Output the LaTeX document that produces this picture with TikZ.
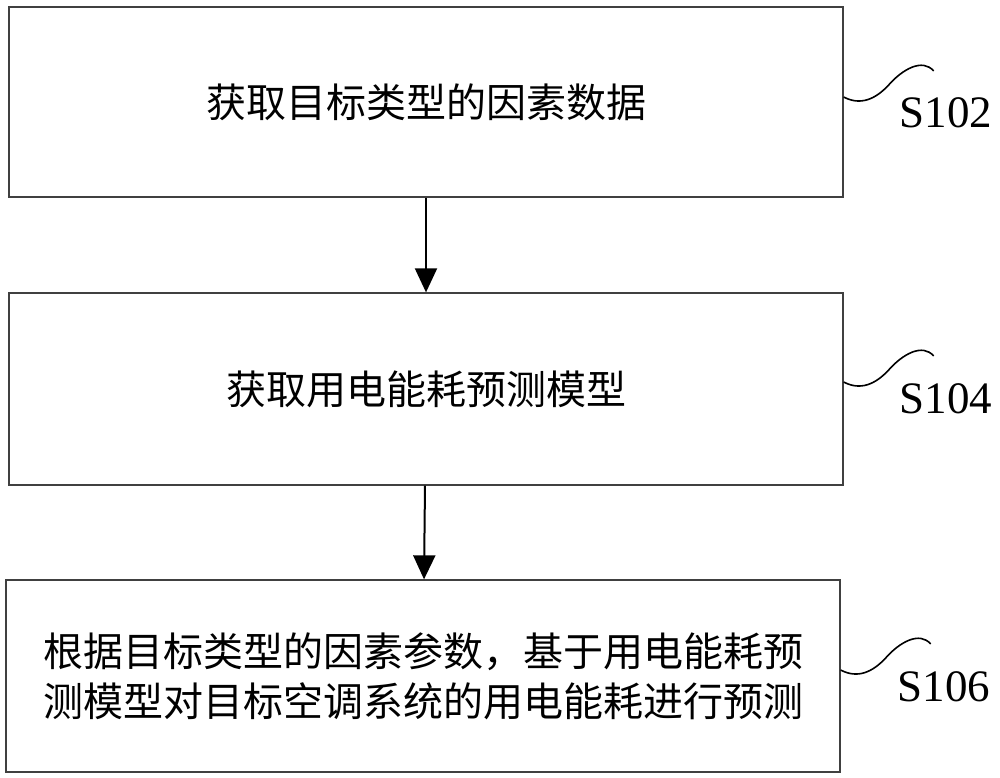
\documentclass[tikz,border=0pt]{standalone}
\usepackage{fontspec}
\setmainfont{Liberation Serif}
\newfontfamily\cjk{Noto Sans CJK SC}
\usetikzlibrary{arrows.meta}
\tikzset{
  stepbox/.style={draw=black!75, line width=1.3pt, rectangle, minimum width=834pt, inner sep=0pt, align=center, font=\cjk\fontsize{40}{50}\selectfont},
  flow/.style={line width=2pt, -{Triangle[width=22pt,length=24pt]}},
  squig/.style={line width=1.6pt},
  steplabel/.style={font=\fontsize{45}{50}\selectfont, inner sep=0pt}
}
\begin{document}
\begin{tikzpicture}[x=1pt,y=-1pt]
\useasboundingbox (0,0) rectangle (1000,777);
\node[stepbox, minimum height=190pt] (b1) at (426,102) {获取目标类型的因素数据};
\node[stepbox, minimum height=192pt] (b2) at (426,389) {获取用电能耗预测模型};
\node[stepbox, minimum height=192pt] (b3) at (423,676) {根据目标类型的因素参数，基于用电能耗预\\测模型对目标空调系统的用电能耗进行预测};
\draw[flow] (b1) -- (b2);
\draw[flow] (b2) -- (b3);
\node[steplabel] (l1) at (946,113) {S102};
\node[steplabel] (l2) at (946,399) {S104};
\node[steplabel] (l3) at (944,687) {S106};
\coordinate (s1) at ([yshift=5pt]b1.east);
\coordinate (s2) at ([yshift=7pt]b2.east);
\coordinate (s3) at ([yshift=6pt]b3.east);
\foreach \s in {s1,s2,s3}{
  \draw[squig] (\s) .. controls +(17,9) and +(-13,14) .. ++(45,-12) .. controls +(14,-16) and +(-11,-13) .. ++(45,-14);
}
\end{tikzpicture}
\end{document}
